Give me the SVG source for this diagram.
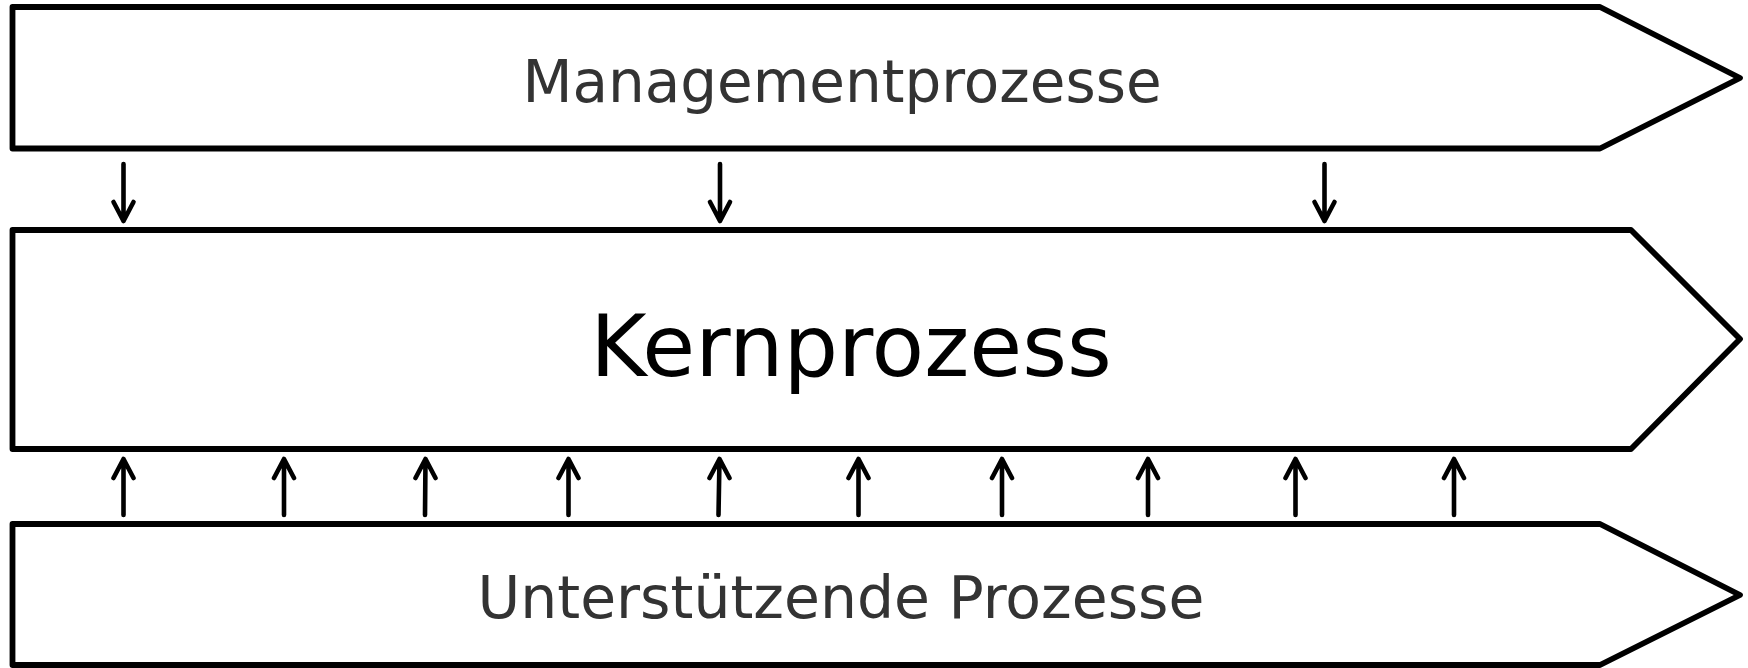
<svg xmlns="http://www.w3.org/2000/svg" width="1748" height="668" viewBox="0 0 1748 668">
<style>
.shape{fill:#fff;stroke:#000;stroke-width:5.8;stroke-linejoin:round}
.lbl{font-family:"DejaVu Sans",Verdana,sans-serif;font-size:58px;fill:#333;text-anchor:middle}
.big{font-family:"DejaVu Sans",Verdana,sans-serif;font-size:86px;fill:#000;text-anchor:middle}
.arr{fill:none;stroke:#000;stroke-width:4.6;stroke-linecap:round;stroke-linejoin:round}
</style>
<rect width="1748" height="668" fill="#fff"/>
<g id="management">
<polygon class="shape" points="12.5,7 1600,7 1740,78 1600,148.5 12.5,148.5"/>
<text class="lbl" x="842" y="102">Managementprozesse</text>
</g>
<g id="kernprozess">
<polygon class="shape" points="12.5,230 1631,230 1740,339 1631,449 12.5,449"/>
<text class="big" x="851" y="376">Kernprozess</text>
</g>
<g id="unterstuetzung">
<polygon class="shape" points="12.5,524 1600,524 1740,595 1600,665 12.5,665"/>
<text class="lbl" x="841" y="618" style="font-size:58.4px">Unterstützende Prozesse</text>
</g>
<g id="connectors">
<g class="arr">
<path d="M123.5,164V221M113.5,202L123.5,221L133.5,202"/>
<path d="M720,164V221M710,202L720,221L730,202"/>
<path d="M1324.5,164V221M1314.5,202L1324.5,221L1334.5,202"/>
<path d="M123.5,515V459M113.5,478L123.5,459L133.5,478"/>
<path d="M284,515V459M274,478L284,459L294,478"/>
<path d="M425,515L425.5,459M415.5,478L425.5,459L435.5,478"/>
<path d="M568.5,515V459M558.5,478L568.5,459L578.5,478"/>
<path d="M718.5,515L719.5,459M709.5,478L719.5,459L729.5,478"/>
<path d="M858.5,515V459M848.5,478L858.5,459L868.5,478"/>
<path d="M1002,515V459M992,478L1002,459L1012,478"/>
<path d="M1148,515V459M1138,478L1148,459L1158,478"/>
<path d="M1295.5,515V459M1285.5,478L1295.5,459L1305.5,478"/>
<path d="M1454,515V459M1444,478L1454,459L1464,478"/>
</g>
</g>
</svg>
